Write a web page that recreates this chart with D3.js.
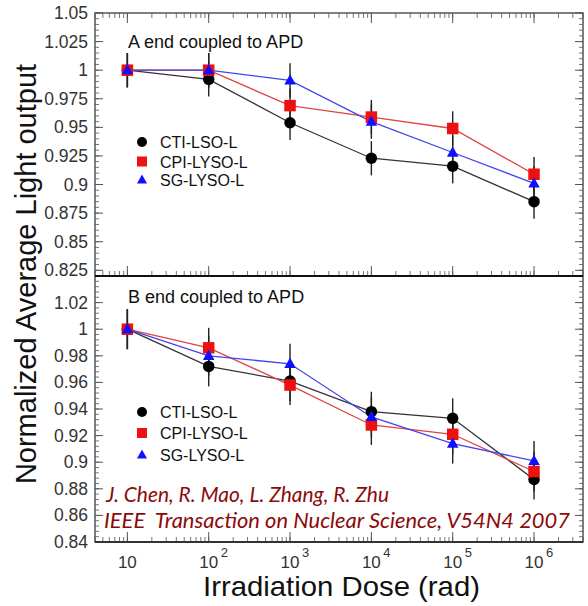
<!DOCTYPE html>
<html>
<head>
<meta charset="utf-8">
<script src="https://cdn.jsdelivr.net/npm/d3@7"></script>
<style>
  body { margin: 0; background: #fff; }
  svg { display: block; font-family: "Liberation Sans", Arial, sans-serif; }
</style>
</head>
<body>
<svg id="chart" width="588" height="606"></svg>
<script>
'use strict';

// irradiation doses (rad)
var doses = [10, 1e2, 1e3, 1e4, 1e5, 1e6];
var seriesNames = ['CTI-LSO-L', 'CPI-LYSO-L', 'SG-LYSO-L'];

// A end coupled to APD
var aCTI = [1.000, 0.992, 0.954, 0.923, 0.916, 0.885];
var aCPI = [1.000, 1.000, 0.969, 0.959, 0.949, 0.909];
var aSG  = [1.000, 1.000, 0.991, 0.955, 0.928, 0.901];

// B end coupled to APD
var bCTI = [1.000, 0.972, 0.961, 0.938, 0.933, 0.887];
var bCPI = [1.000, 0.986, 0.958, 0.928, 0.921, 0.893];
var bSG  = [1.000, 0.980, 0.974, 0.934, 0.914, 0.901];

var errorBar = 0.015;

var topTicks = [0.825, 0.85, 0.875, 0.9, 0.925, 0.95, 0.975, 1, 1.025, 1.05];
var bottomTicks = [0.84, 0.86, 0.88, 0.9, 0.92, 0.94, 0.96, 0.98, 1, 1.02];
var doseTickLabels = ['10', '10', '10', '10', '10', '10'];
var doseTickExps = ['', '2', '3', '4', '5', '6'];

var svg = d3.select('#chart');

var left = 95, right = 583;
var x = d3.scaleLog().domain([4, 4e6]).range([left, right]);

var colors = ['#000000', '#ee1111', '#1010ff'];
var lineColors = ['#333333', '#e04444', '#4444ee'];

var panels = [
    {top: 13, bottom: 276, domain: [0.82, 1.05], ticks: topTicks, minor: 0.005,
     title: 'A end coupled to APD', data: [aCTI, aCPI, aSG], legendY: [142, 161.5, 180]},
    {top: 276, bottom: 542, domain: [0.84, 1.04], ticks: bottomTicks, minor: 0.004,
     title: 'B end coupled to APD', data: [bCTI, bCPI, bSG], legendY: [412, 433, 455]}
];

// minor log ticks
var minorX = [];
for (var p = 0; p <= 6; p++) {
    for (var m = 1; m < 10; m++) {
        var v = m * Math.pow(10, p);
        if (v >= 4 && v <= 4e6) minorX.push(v);
    }
}

function drawMarker(g, kind, cx, cy, size, color) {
    if (kind === 0) {
        g.append('circle').attr('cx', cx).attr('cy', cy).attr('r', size / 2).attr('fill', color);
    } else if (kind === 1) {
        g.append('rect').attr('x', cx - size / 2).attr('y', cy - size / 2)
            .attr('width', size).attr('height', size).attr('fill', color);
    } else {
        var h = size * 0.9;
        g.append('path')
            .attr('d', 'M' + cx + ',' + (cy - h * 0.6) + 'L' + (cx + size / 2) + ',' + (cy + h * 0.4) +
                'L' + (cx - size / 2) + ',' + (cy + h * 0.4) + 'Z')
            .attr('fill', color);
    }
}

panels.forEach(function (panel, pi) {
    var y = d3.scaleLinear().domain(panel.domain).range([panel.bottom, panel.top]);
    var g = svg.append('g');

    // y minor ticks, left and right
    var minors = d3.range(panel.domain[0], panel.domain[1] + 1e-9, panel.minor);
    g.selectAll('.ymin').data(minors).enter().append('line')
        .attr('x1', left).attr('x2', left + 4)
        .attr('y1', function (d) { return y(d); }).attr('y2', function (d) { return y(d); })
        .attr('stroke', '#777').attr('stroke-width', 1);
    g.selectAll('.yminr').data(minors).enter().append('line')
        .attr('x1', right).attr('x2', right - 4)
        .attr('y1', function (d) { return y(d); }).attr('y2', function (d) { return y(d); })
        .attr('stroke', '#777').attr('stroke-width', 1);
    g.selectAll('.ymaj').data(panel.ticks).enter().append('line')
        .attr('x1', left).attr('x2', left + 8)
        .attr('y1', function (d) { return y(d); }).attr('y2', function (d) { return y(d); })
        .attr('stroke', '#555').attr('stroke-width', 1);
    g.selectAll('.ymajr').data(panel.ticks).enter().append('line')
        .attr('x1', right).attr('x2', right - 8)
        .attr('y1', function (d) { return y(d); }).attr('y2', function (d) { return y(d); })
        .attr('stroke', '#555').attr('stroke-width', 1);

    g.selectAll('.ylab').data(panel.ticks).enter().append('text')
        .attr('x', 88).attr('y', function (d) { return y(d) + 6; })
        .attr('text-anchor', 'end').attr('font-size', '17.5px').attr('fill', '#333')
        .text(function (d) { return String(+d.toFixed(3)); });

    // x ticks pointing up from the panel bottom
    g.selectAll('.xmin').data(minorX).enter().append('line')
        .attr('x1', function (d) { return x(d); }).attr('x2', function (d) { return x(d); })
        .attr('y1', panel.bottom).attr('y2', panel.bottom - 5)
        .attr('stroke', '#777').attr('stroke-width', 1);
    g.selectAll('.xmaj').data(doses).enter().append('line')
        .attr('x1', function (d) { return x(d); }).attr('x2', function (d) { return x(d); })
        .attr('y1', panel.bottom).attr('y2', panel.bottom - 10)
        .attr('stroke', '#555').attr('stroke-width', 1);
    if (pi === 0) {
        g.selectAll('.xmint').data(minorX).enter().append('line')
            .attr('x1', function (d) { return x(d); }).attr('x2', function (d) { return x(d); })
            .attr('y1', panel.top).attr('y2', panel.top + 5)
            .attr('stroke', '#777').attr('stroke-width', 1);
        g.selectAll('.xmajt').data(doses).enter().append('line')
            .attr('x1', function (d) { return x(d); }).attr('x2', function (d) { return x(d); })
            .attr('y1', panel.top).attr('y2', panel.top + 10)
            .attr('stroke', '#555').attr('stroke-width', 1);
    }

    g.append('text')
        .attr('x', 128).attr('y', pi === 0 ? 48 : 303)
        .attr('font-size', '18px').attr('fill', '#111')
        .text(panel.title);

    // lines
    panel.data.forEach(function (vals, si) {
        var line = d3.line()
            .x(function (d, i) { return x(doses[i]); })
            .y(function (d) { return y(d); });
        g.append('path').datum(vals).attr('d', line)
            .attr('fill', 'none').attr('stroke', lineColors[si]).attr('stroke-width', 1.3);
    });

    // error bars
    panel.data.forEach(function (vals) {
        g.selectAll(null).data(vals).enter().append('line')
            .attr('x1', function (d, i) { return x(doses[i]); })
            .attr('x2', function (d, i) { return x(doses[i]); })
            .attr('y1', function (d) { return y(d - errorBar); })
            .attr('y2', function (d) { return y(d + errorBar); })
            .attr('stroke', '#222').attr('stroke-width', 1.4);
    });

    // markers
    panel.data.forEach(function (vals, si) {
        vals.forEach(function (d, i) {
            drawMarker(g, si, x(doses[i]), y(d), 11.5, colors[si]);
        });
    });

    // legend
    seriesNames.forEach(function (name, si) {
        var ly = panel.legendY[si];
        drawMarker(g, si, 142, ly, 10, colors[si]);
        g.append('text').attr('x', 160).attr('y', ly + 6)
            .attr('font-size', '16px').attr('fill', '#111').text(name);
    });
});

// frame
svg.append('rect').attr('x', left).attr('y', 13)
    .attr('width', right - left).attr('height', 542 - 13)
    .attr('fill', 'none').attr('stroke', '#555').attr('stroke-width', 1.5);
svg.append('line').attr('x1', left).attr('x2', right).attr('y1', 276).attr('y2', 276)
    .attr('stroke', '#111').attr('stroke-width', 2);
svg.append('line').attr('x1', left).attr('x2', right).attr('y1', 542).attr('y2', 542)
    .attr('stroke', '#333').attr('stroke-width', 1.8);

// x tick labels
doses.forEach(function (d, i) {
    svg.append('text').attr('x', x(d)).attr('y', 568)
        .attr('text-anchor', 'middle').attr('font-size', '17px').attr('fill', '#333')
        .text(doseTickLabels[i]);
    if (doseTickExps[i]) {
        svg.append('text').attr('x', x(d) + 12).attr('y', 557)
            .attr('font-size', '13px').attr('fill', '#333')
            .text(doseTickExps[i]);
    }
});

// axis titles
svg.append('text').attr('x', 203).attr('y', 596)
    .attr('font-size', '28px').attr('fill', '#111')
    .attr('textLength', 277).attr('lengthAdjust', 'spacingAndGlyphs')
    .text('Irradiation Dose (rad)');
svg.append('text').attr('transform', 'translate(36,274) rotate(-90)')
    .attr('text-anchor', 'middle').attr('font-size', '29px').attr('fill', '#111')
    .text('Normalized Average Light output');

// citation
var cite = svg.append('g').attr('fill', '#8b0a0a')
    .attr('font-family', 'Lato, "Open Sans", sans-serif').attr('font-style', 'italic');
cite.append('text').attr('x', 106).attr('y', 502).attr('font-size', '21px')
    .attr('textLength', 283).attr('lengthAdjust', 'spacingAndGlyphs')
    .text('J. Chen, R. Mao, L. Zhang, R. Zhu');
cite.append('text').attr('x', 104).attr('y', 528).attr('font-size', '21px')
    .attr('textLength', 466).attr('lengthAdjust', 'spacingAndGlyphs')
    .attr('xml:space', 'preserve')
    .text('IEEE  Transaction on Nuclear Science, V54N4 2007');
</script>
</body>
</html>
